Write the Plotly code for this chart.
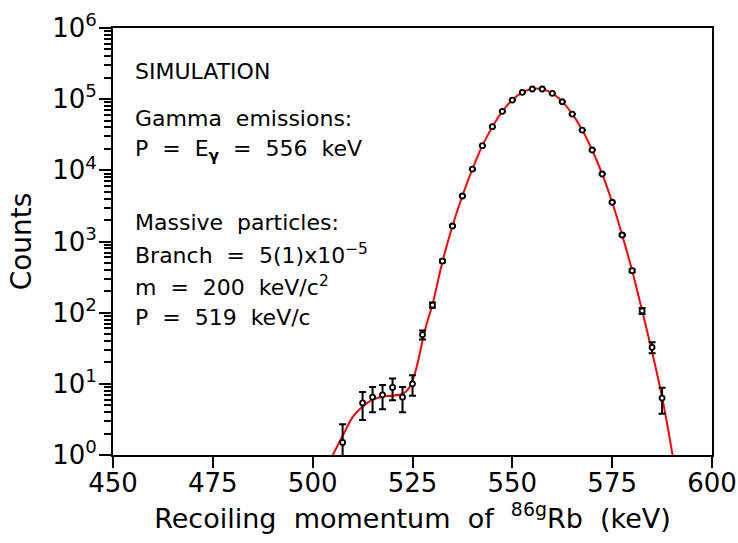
import plotly.graph_objects as go

# Simulated recoil-momentum spectrum (bin centres in keV, counts, 1-sigma errors)
momentum = [507.5, 512.5, 515.0, 517.5, 520.0, 522.5, 525.0, 527.5, 530.0, 532.5,
            535.0, 537.5, 540.0, 542.5, 545.0, 547.5, 550.0, 552.5, 555.0, 557.5,
            560.0, 562.5, 565.0, 567.5, 570.0, 572.5, 575.0, 577.5, 580.0, 582.5,
            585.0, 587.5]
counts = [1.5, 5.4, 6.5, 7.0, 8.9, 6.5, 10.0, 49.0, 128, 530,
          1650, 4360, 10400, 22200, 41000, 67400, 97200, 124700, 139000, 139000,
          120800, 92000, 61800, 36800, 19300, 8880, 3560, 1234, 389, 106,
          32.6, 6.3]
count_err = [1.2, 2.3, 2.5, 2.6, 3.0, 2.5, 3.2, 7.0, 11, 23,
             41, 66, 102, 149, 202, 260, 312, 353, 373, 373,
             348, 303, 249, 192, 139, 94, 60, 35, 20, 10,
             5.7, 2.5]

# Fitted model curve
fit_momentum = [504.0, 505.0, 506.5, 507.5, 510.0, 512.5, 515.0, 517.5, 520.0, 522.5,
                523.5, 524.5, 525.5, 526.5, 527.5, 528.5, 530.0, 532.5, 535.0, 537.5,
                540.0, 542.5, 545.0, 547.5, 550.0, 552.5, 555.0, 556.0, 557.5, 560.0,
                562.5, 565.0, 567.5, 570.0, 572.5, 575.0, 577.5, 580.0, 582.5, 585.0,
                587.5, 590.0, 591.0]
fit_counts = [0.7, 0.98, 1.45, 1.85, 3.4, 4.8, 6.0, 6.6, 6.8, 7.2,
              7.9, 9.5, 13.5, 22, 40, 68, 130, 520, 1650, 4400,
              10400, 22200, 41000, 67500, 97500, 124500, 139500, 141500, 139000, 121000,
              92500, 62000, 37000, 19300, 8900, 3560, 1240, 390, 107, 28,
              6.5, 1.1, 0.5]

x_ticks = [450, 475, 500, 525, 550, 575, 600]
y_exponents = [0, 1, 2, 3, 4, 5, 6]

info_lines = [
    "SIMULATION",
    "Gamma  emissions:",
    "P  =  E<sub><b>γ</b></sub>  =  556  keV",
    "Massive  particles:",
    "Branch  =  5(1)x10<sup>−5</sup>",
    "m  =  200  keV/c<sup>2</sup>",
    "P  =  519  keV/c",
]
info_rows = [71.7, 118.3, 150.8, 222.3, 254.0, 285.8, 317.7]  # pixel rows of the text lines

FONT = "DejaVu Sans"
W, H = 738, 543
L, R, T, B = 113, 26, 28, 88

fig = go.Figure()

fig.add_trace(go.Scatter(
    x=fit_momentum, y=fit_counts, mode="lines",
    line=dict(color="#ff0000", width=2, shape="spline", smoothing=0.8),
    hoverinfo="skip", showlegend=False,
))

fig.add_trace(go.Scatter(
    x=momentum, y=counts, mode="markers",
    marker=dict(symbol="circle", size=5, color="white",
                line=dict(color="black", width=1.8)),
    error_y=dict(type="data", array=count_err, visible=True,
                 color="black", thickness=2, width=3.5),
    showlegend=False,
))

plot_h = H - T - B
for txt, row in zip(info_lines, info_rows):
    fig.add_annotation(
        x=455.0, xref="x", y=(H - B - row) / plot_h, yref="paper",
        text=txt, showarrow=False, xanchor="left", yanchor="middle",
        font=dict(family=FONT, size=22, color="black"),
    )

minor_vals = [m * 10 ** e for e in range(0, 6) for m in range(2, 10)]

fig.update_layout(
    width=W, height=H,
    margin=dict(l=L, r=R, t=T, b=B, autoexpand=False),
    paper_bgcolor="white", plot_bgcolor="white",
    font=dict(family=FONT, color="black"),
    xaxis=dict(
        range=[450, 600], tickmode="array", tickvals=x_ticks,
        ticktext=[str(v) for v in x_ticks],
        ticks="outside", ticklen=11, tickwidth=2, tickcolor="black",
        showline=True, linewidth=2, linecolor="black", mirror=True,
        showgrid=False, zeroline=False,
        tickfont=dict(family=FONT, size=26), ticklabelstandoff=-7,
        title=dict(text="Recoiling  momentum  of  <sup>86g</sup>Rb  (keV)",
                   font=dict(family=FONT, size=27), standoff=2),
    ),
    yaxis=dict(
        type="log", range=[0, 6], tickmode="array",
        tickvals=[10 ** e for e in y_exponents],
        ticktext=[f"10<sup>{e}</sup>" for e in y_exponents],
        ticks="outside", ticklen=12, tickwidth=2, tickcolor="black",
        showline=True, linewidth=2, linecolor="black", mirror=True,
        showgrid=False, zeroline=False,
        tickfont=dict(family=FONT, size=26), ticklabelstandoff=-3,
        minor=dict(tickmode="array", tickvals=minor_vals, ticks="outside",
                   ticklen=7, tickwidth=1.5, tickcolor="black", showgrid=False),
        title=dict(text="Counts", font=dict(family=FONT, size=28), standoff=12),
    ),
)

fig.write_html("out.html")
